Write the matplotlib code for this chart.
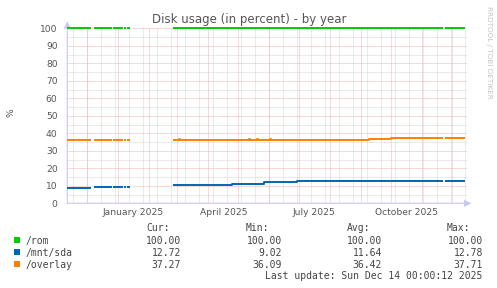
import numpy as np
import pandas as pd
import matplotlib
matplotlib.use('Agg')
import matplotlib.pyplot as plt
from matplotlib.patches import Rectangle

W, H = 497, 288

# periods with data (gaps in between)
seg_start = ['2024-11-11', '2024-12-08', '2024-12-27', '2025-01-07', '2025-01-10',
             '2025-02-25', '2025-11-24']
seg_end = ['2024-12-04', '2024-12-25', '2025-01-05', '2025-01-08', '2025-01-12',
           '2025-11-21', '2025-12-14']

# step changes
rom_dates = ['2024-11-11']
rom_vals = [100.0]

sda_dates = ['2024-11-11', '2024-12-08', '2025-02-25', '2025-03-23', '2025-04-25',
             '2025-05-27', '2025-06-29']
sda_vals = [9.02, 9.6, 10.2, 10.7, 11.3, 12.0, 12.72]

overlay_dates = ['2024-11-11', '2025-03-03', '2025-03-04', '2025-05-12', '2025-05-13',
                 '2025-05-20', '2025-05-21', '2025-06-02', '2025-06-03', '2025-09-09',
                 '2025-10-01']
overlay_vals = [36.1, 36.6, 36.1, 36.6, 36.1, 36.6, 36.1, 36.6, 36.1, 36.6, 37.27]

labels = ['/rom', '/mnt/sda', '/overlay']
colors = ['#00cc00', '#0066b3', '#ff8000']
cur = ['100.00', '12.72', '37.27']
vmin = ['100.00', '9.02', '36.09']
avg = ['100.00', '11.64', '36.42']
vmax = ['100.00', '12.78', '37.71']

month_labels = ['January 2025', 'April 2025', 'July 2025', 'October 2025']
label_dates = ['2025-01-16', '2025-04-16', '2025-07-16', '2025-10-16']


def build(dates, vals):
    days = pd.date_range('2024-11-11', '2025-12-14', freq='D')
    s = pd.Series(vals, index=pd.to_datetime(dates)).reindex(days, method='ffill')
    mask = np.zeros(len(days), dtype=bool)
    for a, b in zip(seg_start, seg_end):
        mask |= (days >= pd.Timestamp(a)) & (days <= pd.Timestamp(b))
    s[~mask] = np.nan
    return s


def px(x, y):
    return x / W, 1 - y / H


fig = plt.figure(figsize=(W / 100, H / 100), dpi=100)
ax = fig.add_axes([67.3 / W, (H - 203.3) / H, 400 / W, 175 / H])

x0 = pd.Timestamp('2024-11-11')
ax.set_xlim(x0, x0 + pd.Timedelta(days=400))
ax.set_ylim(0, 100)

grey = '#d6d6d6'
red = '#f0b4b4'
dot = (0, (1, 1))
lw = 0.72

# grid: minor grey first, major red on top
for d in pd.date_range('2024-11-17', '2025-12-16', freq='14D'):
    ax.axvline(d, color=grey, lw=lw, ls=dot, zorder=1)
for v in range(5, 100, 10):
    ax.axhline(v, color=grey, lw=lw, ls=dot, zorder=1)
for d in pd.date_range('2024-12-01', '2025-12-16', freq='MS'):
    ax.axvline(d, color=red, lw=lw, ls=dot, zorder=2)
for v in range(10, 101, 10):
    ax.axhline(v, color=red, lw=lw, ls=dot, zorder=2)

for (dd, vv), c in zip([(rom_dates, rom_vals), (sda_dates, sda_vals),
                        (overlay_dates, overlay_vals)], colors):
    s = build(dd, vv)
    ax.plot(s.index, s.values, drawstyle='steps-post', color=c, lw=1.4,
            zorder=5, clip_on=False, solid_capstyle='butt')

for sp in ax.spines.values():
    sp.set_visible(False)
ax.set_xticks([])
ax.set_yticks(range(0, 101, 10))
ax.set_yticklabels([str(v) for v in range(0, 101, 10)])
ax.tick_params(axis='y', length=0, pad=7, labelsize=6.6, labelcolor='#555555')

axis_col = '#c8c8f4'
ax.annotate('', xy=(0, 1.04), xytext=(0, 0), xycoords='axes fraction',
            arrowprops=dict(arrowstyle='-|>,head_length=0.4,head_width=0.2',
                            color=axis_col, lw=0.8, shrinkA=0, shrinkB=0))
ax.annotate('', xy=(1.01, 0), xytext=(0, 0), xycoords='axes fraction',
            arrowprops=dict(arrowstyle='-|>,head_length=0.4,head_width=0.2',
                            color=axis_col, lw=0.8, shrinkA=0, shrinkB=0))

for t, d in zip(month_labels, label_dates):
    ax.text(pd.Timestamp(d), -0.052, t, transform=ax.get_xaxis_transform(),
            ha='center', va='center', fontsize=6.6, color='#555555')

fig.text(*px(249, 19), 'Disk usage (in percent) - by year', ha='center', va='center',
         fontsize=8.5, color='#555555')
fig.text(*px(11, 113), '%', rotation=90, ha='center', va='center',
         fontsize=6.6, color='#555555')
fig.text(*px(489, 6), 'RRDTOOL / TOBI OETIKER', rotation=270, ha='center', va='top',
         fontsize=5.2, color='#c4c4c4')

mono = 'DejaVu Sans Mono'
fs = 7.0
tc = '#444444'
col_left = [146, 246, 347, 447]
col_right = [181, 282, 382, 483]
for x, h in zip(col_left, ['Cur:', 'Min:', 'Avg:', 'Max:']):
    fig.text(*px(x, 227), h, ha='left', va='center_baseline', family=mono,
             fontsize=fs, color=tc)

rows_y = [240, 252, 263.7]
for i, (lab, c) in enumerate(zip(labels, colors)):
    y = rows_y[i]
    fx, fy = px(14, y + 3)
    fig.add_artist(Rectangle((fx, fy), 6 / W, 6 / H, transform=fig.transFigure,
                             facecolor=c, edgecolor='none'))
    fig.text(*px(26, y), lab, ha='left', va='center_baseline', family=mono,
             fontsize=fs, color=tc)
    for x, v in zip(col_right, [cur[i], vmin[i], avg[i], vmax[i]]):
        fig.text(*px(x, y), v, ha='right', va='center_baseline', family=mono,
                 fontsize=fs, color=tc)

fig.text(*px(482, 275.3), 'Last update: Sun Dec 14 00:00:12 2025', ha='right',
         va='center_baseline', family=mono, fontsize=fs, color=tc)

fig.savefig('out.png', dpi=100, facecolor='white')
